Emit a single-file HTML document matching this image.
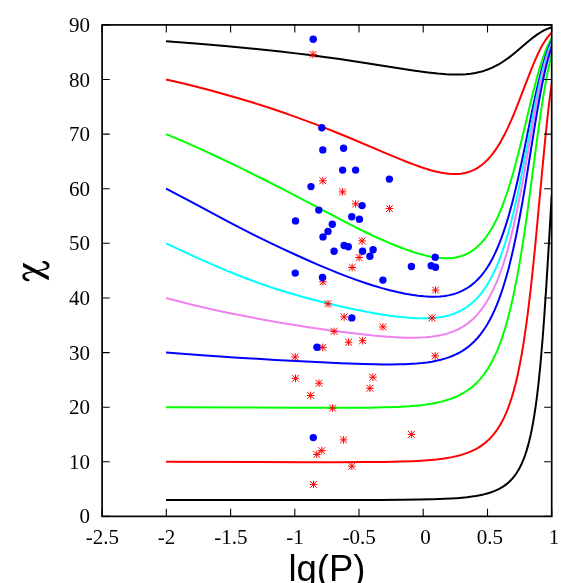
<!DOCTYPE html>
<html><head><meta charset="utf-8"><title>chart</title>
<style>
html,body{margin:0;padding:0;background:#fff;}
body{width:583px;height:583px;overflow:hidden;position:relative;}
svg{position:absolute;left:0;top:0;display:block;}
text{font-family:"Liberation Serif",serif;font-size:21px;fill:#000;}
.sans{font-family:"Liberation Sans",sans-serif;}
</style></head><body>
<svg width="583" height="583" viewBox="0 0 583 583">
<rect x="0" y="0" width="583" height="583" fill="#fff"/>

<defs><clipPath id="pc"><rect x="102.1" y="24.9" width="449.8" height="491.5"/></clipPath></defs>
<g fill="none" stroke-width="2.0" stroke-linejoin="round" stroke-linecap="butt" clip-path="url(#pc)">
<path stroke="#000000" d="M166.07,41.28 L195.64,43.49 L225.20,45.99 L253.48,48.68 L280.47,51.57 L295.90,53.37 L310.04,55.11 L324.18,56.96 L339.60,59.09 L365.31,62.89 L411.59,70.14 L420.59,71.46 L427.87,72.43 L437.74,73.56 L446.31,74.27 L450.25,74.48 L454.03,74.59 L457.63,74.61 L461.15,74.54 L466.03,74.25 L470.75,73.75 L475.21,73.03 L479.50,72.10 L483.70,70.93 L487.73,69.53 L491.76,67.86 L495.70,65.95 L499.05,64.10 L502.48,62.00 L505.91,59.69 L509.42,57.12 L512.51,54.71 L515.86,51.98 L526.40,42.98 L530.00,39.98 L533.69,37.07 L537.04,34.65 L540.81,32.22 L544.41,30.24 L546.21,29.39 L548.01,28.62 L549.81,27.95 L551.70,27.34"/>
<path stroke="#ff0000" d="M166.07,79.51 L181.50,83.09 L195.64,86.55 L211.06,90.55 L225.20,94.42 L239.34,98.50 L253.48,102.80 L267.62,107.31 L281.76,112.05 L292.04,115.64 L303.61,119.82 L315.18,124.15 L326.75,128.63 L338.32,133.26 L351.17,138.54 L389.74,154.86 L401.30,159.65 L407.73,162.22 L414.16,164.68 L420.59,166.99 L425.30,168.56 L430.70,170.19 L435.68,171.51 L440.39,172.56 L444.85,173.33 L449.05,173.82 L453.08,174.06 L456.94,174.02 L460.63,173.72 L463.29,173.32 L465.95,172.75 L468.52,172.02 L471.01,171.14 L473.41,170.11 L475.81,168.89 L478.12,167.52 L480.44,165.94 L482.67,164.23 L484.90,162.30 L487.04,160.23 L489.19,157.95 L491.24,155.55 L493.30,152.93 L495.36,150.08 L497.42,147.01 L499.13,144.27 L500.85,141.37 L504.28,135.07 L507.71,128.11 L511.31,120.15 L514.40,112.83 L517.66,104.71 L527.86,78.04 L531.38,69.08 L534.81,60.82 L537.98,53.78 L539.78,50.11 L541.50,46.84 L543.21,43.82 L544.93,41.06 L546.55,38.67 L548.27,36.41 L549.98,34.41 L551.70,32.65"/>
<path stroke="#00ff00" d="M166.07,134.12 L182.78,141.20 L200.78,149.17 L218.77,157.48 L238.06,166.71 L259.91,177.52 L284.33,189.93 L306.18,201.28 L342.18,220.28 L356.31,227.55 L365.31,232.00 L374.31,236.28 L382.02,239.78 L389.74,243.11 L396.16,245.75 L401.30,247.76 L406.45,249.67 L411.59,251.45 L416.73,253.09 L421.87,254.56 L426.16,255.65 L430.27,256.54 L434.39,257.28 L438.25,257.80 L441.94,258.12 L445.54,258.26 L448.97,258.20 L452.31,257.94 L455.49,257.48 L458.57,256.83 L461.75,255.92 L464.83,254.76 L467.83,253.36 L470.66,251.76 L473.41,249.93 L476.15,247.80 L478.72,245.50 L481.30,242.88 L483.78,240.02 L486.27,236.82 L488.67,233.38 L490.99,229.72 L493.30,225.70 L495.53,221.46 L497.76,216.84 L499.91,212.00 L501.71,207.63 L503.42,203.20 L505.22,198.25 L506.94,193.26 L508.65,188.00 L510.45,182.18 L514.05,169.69 L517.14,158.14 L520.40,145.24 L530.26,104.06 L533.52,90.81 L536.69,78.64 L539.61,68.37 L541.15,63.35 L542.70,58.65 L544.24,54.28 L545.70,50.48 L547.16,47.00 L548.70,43.65 L550.16,40.81 L551.70,38.14"/>
<path stroke="#0000ff" d="M166.07,188.73 L178.93,195.39 L191.78,202.14 L229.06,222.02 L240.63,228.11 L254.77,235.31 L270.19,242.86 L281.76,248.34 L294.61,254.28 L306.18,259.48 L317.75,264.55 L328.04,268.90 L338.32,273.10 L347.32,276.59 L356.31,279.90 L365.31,283.00 L373.03,285.48 L382.02,288.14 L389.74,290.21 L397.45,292.07 L405.16,293.69 L411.59,294.82 L418.02,295.73 L424.01,296.34 L429.67,296.66 L435.08,296.70 L440.14,296.46 L444.94,295.94 L447.25,295.57 L449.57,295.11 L451.80,294.59 L453.94,294.00 L456.00,293.35 L458.06,292.61 L461.49,291.16 L464.83,289.46 L468.09,287.49 L471.18,285.32 L474.18,282.89 L477.01,280.27 L479.84,277.29 L482.50,274.15 L485.07,270.74 L487.56,267.06 L489.96,263.12 L492.36,258.77 L494.67,254.14 L496.90,249.26 L499.13,243.94 L501.28,238.39 L503.16,233.15 L504.96,227.81 L506.77,222.15 L508.48,216.44 L510.28,210.09 L512.00,203.71 L513.71,197.00 L515.51,189.61 L518.51,176.58 L521.77,161.57 L524.77,147.13 L531.46,114.30 L534.64,99.22 L537.64,85.79 L540.38,74.49 L541.84,68.94 L543.21,64.03 L544.67,59.16 L546.04,54.92 L547.41,51.02 L548.87,47.25 L550.24,44.04 L551.70,40.98"/>
<path stroke="#00ffff" d="M166.07,243.34 L178.93,249.43 L191.78,255.35 L204.63,261.13 L216.20,266.19 L226.49,270.55 L236.77,274.76 L247.05,278.78 L256.05,282.11 L265.05,285.28 L275.33,288.70 L284.33,291.52 L294.61,294.58 L304.90,297.46 L316.47,300.52 L328.04,303.41 L339.60,306.13 L351.17,308.67 L362.74,311.02 L373.03,312.94 L383.31,314.66 L392.31,315.97 L401.30,317.05 L409.02,317.76 L416.73,318.21 L423.59,318.33 L430.02,318.16 L433.10,317.96 L436.02,317.68 L438.85,317.33 L441.59,316.90 L444.25,316.40 L446.82,315.82 L449.31,315.16 L451.80,314.40 L454.11,313.60 L456.43,312.69 L458.66,311.70 L460.89,310.60 L464.23,308.72 L467.41,306.64 L470.49,304.31 L473.49,301.72 L476.41,298.86 L479.15,295.84 L481.81,292.56 L484.47,288.92 L487.04,285.01 L489.53,280.84 L491.93,276.42 L494.25,271.75 L496.48,266.83 L498.71,261.46 L500.85,255.84 L502.91,249.99 L504.71,244.51 L506.42,238.94 L508.22,232.75 L509.94,226.51 L511.65,219.93 L513.28,213.35 L516.71,198.47 L519.63,184.76 L522.72,169.37 L525.63,154.22 L532.15,119.64 L535.24,103.79 L538.15,89.68 L540.81,77.84 L542.18,72.17 L543.55,66.85 L544.93,61.87 L546.30,57.26 L547.58,53.28 L548.96,49.38 L550.33,45.86 L551.70,42.69"/>
<path stroke="#ee82ee" d="M166.07,297.96 L177.64,301.03 L189.21,303.96 L200.78,306.74 L213.63,309.67 L226.49,312.45 L239.34,315.09 L252.20,317.59 L266.33,320.21 L280.47,322.68 L294.61,325.03 L310.04,327.44 L324.18,329.51 L338.32,331.45 L351.17,333.07 L364.03,334.55 L375.60,335.72 L384.59,336.50 L392.31,337.05 L400.02,337.45 L407.73,337.69 L414.16,337.71 L420.59,337.54 L425.82,337.23 L430.79,336.76 L435.85,336.08 L440.65,335.19 L445.11,334.13 L449.40,332.86 L453.51,331.36 L457.37,329.66 L461.06,327.74 L464.58,325.60 L467.75,323.37 L470.84,320.89 L473.75,318.24 L476.58,315.34 L479.32,312.19 L481.90,308.90 L484.47,305.25 L486.96,301.35 L489.36,297.20 L491.76,292.64 L494.07,287.84 L496.39,282.61 L498.53,277.35 L500.68,271.65 L502.74,265.74 L504.79,259.34 L506.51,253.63 L508.14,247.86 L509.77,241.76 L511.40,235.32 L513.11,228.19 L514.74,221.07 L518.00,205.81 L520.74,191.94 L523.74,175.86 L532.83,124.46 L535.75,108.40 L538.58,93.69 L541.15,81.35 L543.81,69.87 L545.18,64.50 L546.47,59.82 L547.76,55.50 L549.04,51.53 L550.33,47.91 L551.70,44.44"/>
<path stroke="#0000ff" d="M166.07,352.57 L202.06,355.22 L238.06,357.63 L275.33,359.90 L311.32,361.85 L340.89,363.22 L364.03,364.05 L374.31,364.30 L383.31,364.42 L391.02,364.44 L398.73,364.35 L405.16,364.16 L411.59,363.85 L416.73,363.50 L421.87,363.02 L427.02,362.40 L431.90,361.65 L436.45,360.78 L440.82,359.77 L444.85,358.65 L448.71,357.39 L452.31,356.02 L455.83,354.46 L459.17,352.76 L462.43,350.87 L465.52,348.83 L468.43,346.65 L471.52,344.06 L474.44,341.29 L477.27,338.27 L480.01,335.00 L482.67,331.47 L485.16,327.81 L487.64,323.77 L490.04,319.46 L492.36,314.90 L494.59,310.09 L496.82,304.85 L498.96,299.35 L501.02,293.64 L503.08,287.47 L505.14,280.82 L507.11,273.97 L508.74,267.93 L510.28,261.87 L511.91,255.10 L513.45,248.32 L516.63,233.28 L519.80,216.81 L522.37,202.45 L525.20,185.71 L533.78,132.19 L536.61,114.96 L539.27,99.66 L541.75,86.43 L544.24,74.47 L545.53,68.83 L546.73,63.93 L547.93,59.37 L549.21,54.88 L550.41,51.05 L551.70,47.33"/>
<path stroke="#00ff00" d="M166.07,407.18 L295.90,407.78 L326.75,407.86 L348.60,407.83 L367.88,407.69 L384.59,407.37 L397.45,406.91 L409.02,406.24 L415.44,405.72 L420.59,405.20 L426.16,404.50 L431.30,403.71 L436.02,402.84 L440.48,401.86 L444.68,400.77 L448.63,399.57 L452.40,398.25 L456.00,396.79 L459.43,395.19 L462.77,393.41 L465.95,391.50 L468.95,389.45 L471.86,387.20 L474.61,384.84 L477.61,381.92 L480.44,378.82 L483.18,375.45 L485.76,371.91 L488.24,368.11 L490.64,364.04 L492.96,359.71 L495.27,354.92 L497.42,350.04 L499.56,344.69 L501.62,339.06 L503.68,332.91 L505.65,326.49 L507.54,319.82 L509.42,312.60 L511.22,305.17 L512.77,298.35 L514.31,291.12 L517.31,275.83 L520.23,259.35 L523.14,241.19 L525.72,223.89 L528.38,204.94 L536.26,145.37 L538.84,126.45 L541.24,109.75 L543.38,95.92 L545.53,83.32 L547.58,72.50 L549.64,63.01 L550.67,58.76 L551.70,54.84"/>
<path stroke="#ff0000" d="M166.07,461.79 L307.47,462.13 L339.60,462.15 L362.74,462.09 L383.31,461.91 L400.02,461.59 L412.87,461.14 L424.79,460.47 L431.05,459.98 L436.79,459.41 L442.19,458.74 L447.17,457.99 L451.88,457.13 L456.26,456.18 L460.37,455.12 L464.32,453.91 L468.01,452.60 L471.52,451.15 L474.87,449.55 L478.04,447.80 L481.04,445.90 L483.87,443.87 L486.61,441.63 L489.19,439.24 L491.93,436.36 L494.59,433.17 L497.08,429.79 L499.48,426.08 L501.79,422.04 L503.94,417.83 L506.08,413.11 L508.05,408.23 L509.94,403.04 L511.83,397.26 L513.63,391.13 L515.34,384.67 L516.97,377.91 L518.60,370.49 L520.14,362.78 L521.69,354.38 L524.09,339.80 L526.49,323.22 L528.80,305.24 L531.21,284.54 L533.26,265.23 L535.49,242.83 L542.95,162.54 L545.78,133.53 L547.33,118.88 L548.78,106.01 L550.24,94.17 L551.70,83.44"/>
<path stroke="#000000" d="M166.07,500.02 L324.18,500.06 L380.74,499.97 L402.59,499.83 L419.30,499.61 L433.02,499.29 L444.68,498.85 L450.94,498.52 L456.77,498.13 L462.09,497.68 L467.06,497.17 L471.61,496.59 L475.89,495.94 L479.93,495.20 L483.61,494.40 L487.13,493.49 L490.47,492.47 L493.56,491.37 L496.48,490.15 L499.22,488.83 L501.79,487.39 L504.19,485.85 L506.51,484.14 L509.08,481.95 L511.48,479.55 L513.80,476.87 L515.94,473.98 L518.00,470.78 L519.89,467.40 L521.69,463.71 L523.40,459.69 L525.03,455.33 L526.57,450.65 L528.03,445.65 L529.40,440.35 L530.78,434.39 L532.06,428.12 L533.26,421.60 L534.46,414.34 L535.58,406.86 L536.61,399.27 L537.64,390.95 L538.67,381.85 L539.69,371.90 L540.64,362.00 L542.61,338.77 L544.41,314.51 L546.38,284.84 L548.27,254.11 L551.70,195.72"/>
</g>
<g stroke="#ff0000" stroke-width="1.0" fill="none">
<path d="M309.2,54.4H316.8M313.0,50.6V58.2M309.6,51.0L316.4,57.8M309.6,57.8L316.4,51.0"/>
<path d="M319.0,180.8H326.6M322.8,177.0V184.6M319.4,177.4L326.2,184.2M319.4,184.2L326.2,177.4"/>
<path d="M338.8,191.9H346.4M342.6,188.1V195.7M339.2,188.5L346.0,195.3M339.2,195.3L346.0,188.5"/>
<path d="M351.8,203.9H359.4M355.6,200.1V207.7M352.2,200.5L359.0,207.3M352.2,207.3L359.0,200.5"/>
<path d="M385.6,208.6H393.2M389.4,204.8V212.4M386.0,205.2L392.8,212.0M386.0,212.0L392.8,205.2"/>
<path d="M358.3,240.9H365.9M362.1,237.1V244.7M358.7,237.5L365.5,244.3M358.7,244.3L365.5,237.5"/>
<path d="M355.3,257.5H362.9M359.1,253.7V261.3M355.7,254.1L362.5,260.9M355.7,260.9L362.5,254.1"/>
<path d="M348.3,267.5H355.9M352.1,263.7V271.3M348.7,264.1L355.5,270.9M348.7,270.9L355.5,264.1"/>
<path d="M319.2,281.8H326.8M323.0,278.0V285.6M319.6,278.4L326.4,285.2M319.6,285.2L326.4,278.4"/>
<path d="M431.7,290.1H439.3M435.5,286.3V293.9M432.1,286.7L438.9,293.5M432.1,293.5L438.9,286.7"/>
<path d="M324.2,303.8H331.8M328.0,300.0V307.6M324.6,300.4L331.4,307.2M324.6,307.2L331.4,300.4"/>
<path d="M340.3,316.9H347.9M344.1,313.1V320.7M340.7,313.5L347.5,320.3M340.7,320.3L347.5,313.5"/>
<path d="M428.2,317.9H435.8M432.0,314.1V321.7M428.6,314.5L435.4,321.3M428.6,321.3L435.4,314.5"/>
<path d="M379.1,326.9H386.7M382.9,323.1V330.7M379.5,323.5L386.3,330.3M379.5,330.3L386.3,323.5"/>
<path d="M330.3,331.4H337.9M334.1,327.6V335.2M330.7,328.0L337.5,334.8M330.7,334.8L337.5,328.0"/>
<path d="M344.8,342.2H352.4M348.6,338.4V346.0M345.2,338.8L352.0,345.6M345.2,345.6L352.0,338.8"/>
<path d="M358.8,340.7H366.4M362.6,336.9V344.5M359.2,337.3L366.0,344.1M359.2,344.1L366.0,337.3"/>
<path d="M319.0,347.4H326.6M322.8,343.6V351.2M319.4,344.0L326.2,350.8M319.4,350.8L326.2,344.0"/>
<path d="M431.4,355.9H439.0M435.2,352.1V359.7M431.8,352.5L438.6,359.3M431.8,359.3L438.6,352.5"/>
<path d="M369.1,377.2H376.7M372.9,373.4V381.0M369.5,373.8L376.3,380.6M369.5,380.6L376.3,373.8"/>
<path d="M315.2,383.2H322.8M319.0,379.4V387.0M315.6,379.8L322.4,386.6M315.6,386.6L322.4,379.8"/>
<path d="M366.1,388.3H373.7M369.9,384.5V392.1M366.5,384.9L373.3,391.7M366.5,391.7L373.3,384.9"/>
<path d="M306.9,395.5H314.5M310.7,391.7V399.3M307.3,392.1L314.1,398.9M307.3,398.9L314.1,392.1"/>
<path d="M328.8,408.1H336.4M332.6,404.3V411.9M329.2,404.7L336.0,411.5M329.2,411.5L336.0,404.7"/>
<path d="M407.6,434.4H415.2M411.4,430.6V438.2M408.0,431.0L414.8,437.8M408.0,437.8L414.8,431.0"/>
<path d="M339.8,439.9H347.4M343.6,436.1V443.7M340.2,436.5L347.0,443.3M340.2,443.3L347.0,436.5"/>
<path d="M318.0,450.6H325.6M321.8,446.8V454.4M318.4,447.2L325.2,454.0M318.4,454.0L325.2,447.2"/>
<path d="M313.0,454.4H320.6M316.8,450.6V458.2M313.4,451.0L320.2,457.8M313.4,457.8L320.2,451.0"/>
<path d="M348.0,466.2H355.6M351.8,462.4V470.0M348.4,462.8L355.2,469.6M348.4,469.6L355.2,462.8"/>
<path d="M309.7,484.4H317.3M313.5,480.6V488.2M310.1,481.0L316.9,487.8M310.1,487.8L316.9,481.0"/>
<path d="M291.4,357.0H299.0M295.2,353.2V360.8M291.8,353.6L298.6,360.4M291.8,360.4L298.6,353.6"/>
<path d="M291.7,378.3H299.3M295.5,374.5V382.1M292.1,374.9L298.9,381.7M292.1,381.7L298.9,374.9"/>
</g>
<g fill="#0000ff">
<circle cx="313.2" cy="39.2" r="3.7"/>
<circle cx="321.8" cy="127.7" r="3.7"/>
<circle cx="322.8" cy="149.9" r="3.7"/>
<circle cx="343.6" cy="148.2" r="3.7"/>
<circle cx="342.6" cy="170.1" r="3.7"/>
<circle cx="355.6" cy="170.1" r="3.7"/>
<circle cx="389.4" cy="179.1" r="3.7"/>
<circle cx="311.0" cy="186.6" r="3.7"/>
<circle cx="362.1" cy="205.6" r="3.7"/>
<circle cx="318.8" cy="210.1" r="3.7"/>
<circle cx="351.8" cy="216.7" r="3.7"/>
<circle cx="359.4" cy="219.2" r="3.7"/>
<circle cx="332.3" cy="224.2" r="3.7"/>
<circle cx="328.0" cy="231.4" r="3.7"/>
<circle cx="323.0" cy="236.9" r="3.7"/>
<circle cx="344.1" cy="245.5" r="3.7"/>
<circle cx="348.3" cy="246.7" r="3.7"/>
<circle cx="334.1" cy="251.2" r="3.7"/>
<circle cx="362.6" cy="251.2" r="3.7"/>
<circle cx="373.1" cy="249.7" r="3.7"/>
<circle cx="369.9" cy="256.2" r="3.7"/>
<circle cx="435.2" cy="257.2" r="3.7"/>
<circle cx="411.4" cy="266.5" r="3.7"/>
<circle cx="431.2" cy="265.7" r="3.7"/>
<circle cx="435.5" cy="267.2" r="3.7"/>
<circle cx="322.5" cy="277.5" r="3.7"/>
<circle cx="382.9" cy="280.1" r="3.7"/>
<circle cx="351.8" cy="317.9" r="3.7"/>
<circle cx="317.0" cy="347.2" r="3.7"/>
<circle cx="313.3" cy="437.6" r="3.7"/>
<circle cx="295.5" cy="220.9" r="3.7"/>
<circle cx="295.2" cy="273.1" r="3.7"/>
</g>
<g stroke="#000" stroke-width="1.7" fill="none">
<rect x="102.1" y="24.9" width="449.6" height="491.5"/>
<path stroke-width="1.1" d="M102.1,516.4v-7.6M102.1,24.9v7.6M166.3,516.4v-7.6M166.3,24.9v7.6M230.6,516.4v-7.6M230.6,24.9v7.6M294.8,516.4v-7.6M294.8,24.9v7.6M359.0,516.4v-7.6M359.0,24.9v7.6M423.2,516.4v-7.6M423.2,24.9v7.6M487.5,516.4v-7.6M487.5,24.9v7.6M551.7,516.4v-7.6M551.7,24.9v7.6M102.1,516.4h7.6M551.7,516.4h-7.6M102.1,461.8h7.6M551.7,461.8h-7.6M102.1,407.2h7.6M551.7,407.2h-7.6M102.1,352.6h7.6M551.7,352.6h-7.6M102.1,298.0h7.6M551.7,298.0h-7.6M102.1,243.3h7.6M551.7,243.3h-7.6M102.1,188.7h7.6M551.7,188.7h-7.6M102.1,134.1h7.6M551.7,134.1h-7.6M102.1,79.5h7.6M551.7,79.5h-7.6M102.1,24.9h7.6M551.7,24.9h-7.6"/>
</g>
<g style="filter:grayscale(1)">
<text x="89.9" y="523.4" text-anchor="end">0</text>
<text x="89.9" y="468.8" text-anchor="end">10</text>
<text x="89.9" y="414.2" text-anchor="end">20</text>
<text x="89.9" y="359.6" text-anchor="end">30</text>
<text x="89.9" y="305.0" text-anchor="end">40</text>
<text x="89.9" y="250.3" text-anchor="end">50</text>
<text x="89.9" y="195.7" text-anchor="end">60</text>
<text x="89.9" y="141.1" text-anchor="end">70</text>
<text x="89.9" y="86.5" text-anchor="end">80</text>
<text x="89.9" y="31.9" text-anchor="end">90</text>
<text x="102.3" y="544.4" text-anchor="middle">-2.5</text>
<text x="166.5" y="544.4" text-anchor="middle">-2</text>
<text x="230.8" y="544.4" text-anchor="middle">-1.5</text>
<text x="295.0" y="544.4" text-anchor="middle">-1</text>
<text x="359.2" y="544.4" text-anchor="middle">-0.5</text>
<text x="425.5" y="544.4" text-anchor="middle">0</text>
<text x="489.8" y="544.4" text-anchor="middle">0.5</text>
<text x="554.0" y="544.4" text-anchor="middle">1</text>
<text class="sans" x="327" y="580.5" text-anchor="middle" style="font-size:36.5px">lg(P)</text>
</g>
<path fill="#000" d="M23.0,262.7 L23.0,266.7 L48.8,280.3 L48.8,276.3Z"/><path fill="#000" d="M42.40,262.80 L42.87,263.01 L43.32,263.20 L43.74,263.37 L44.16,263.54 L44.57,263.72 L44.97,263.93 L45.36,264.18 L45.70,264.45 L45.98,264.74 L46.20,265.01 L46.36,265.26 L46.48,265.48 L46.58,265.74 L46.66,266.05 L46.70,266.39 L46.69,266.72 L46.63,267.00 L46.49,267.27 L46.24,267.54 L45.90,267.79 L45.46,268.02 L44.97,268.22 L44.45,268.41 L43.91,268.58 L43.38,268.75 L42.86,268.90 L42.35,269.04 L41.83,269.18 L41.32,269.31 L40.81,269.44 L40.29,269.56 L39.77,269.68 L39.25,269.79 L38.72,269.91 L38.19,270.02 L37.66,270.14 L37.13,270.24 L36.59,270.35 L36.05,270.46 L35.52,270.56 L34.98,270.67 L34.44,270.77 L33.90,270.87 L33.37,270.97 L32.83,271.07 L32.30,271.17 L31.77,271.27 L31.24,271.37 L30.71,271.47 L30.19,271.58 L29.66,271.68 L29.13,271.79 L28.59,271.90 L28.05,272.01 L27.50,272.12 L26.93,272.24 L26.35,272.37 L25.74,272.52 L25.12,272.71 L24.50,272.98 L23.89,273.35 L23.33,273.87 L22.86,274.52 L22.54,275.25 L22.35,276.04 L22.33,276.87 L22.49,277.70 L22.83,278.47 L23.30,279.12 L23.86,279.64 L24.45,280.06 L25.06,280.40 L25.66,280.68 L26.27,280.91 L26.89,281.09 L27.51,281.20 L28.15,281.23 L28.78,281.17 L29.40,281.00 L29.40,279.40 L28.93,279.19 L28.48,279.00 L28.06,278.83 L27.64,278.66 L27.23,278.48 L26.83,278.27 L26.44,278.02 L26.10,277.75 L25.82,277.46 L25.60,277.19 L25.44,276.94 L25.32,276.72 L25.22,276.46 L25.14,276.15 L25.10,275.81 L25.11,275.48 L25.17,275.20 L25.31,274.93 L25.56,274.66 L25.90,274.41 L26.34,274.18 L26.83,273.98 L27.35,273.79 L27.89,273.62 L28.42,273.45 L28.94,273.30 L29.45,273.16 L29.97,273.02 L30.48,272.89 L30.99,272.76 L31.51,272.64 L32.03,272.52 L32.55,272.41 L33.08,272.29 L33.61,272.18 L34.14,272.06 L34.67,271.96 L35.21,271.85 L35.75,271.74 L36.28,271.64 L36.82,271.53 L37.36,271.43 L37.90,271.33 L38.43,271.23 L38.97,271.13 L39.50,271.03 L40.03,270.93 L40.56,270.83 L41.09,270.73 L41.61,270.62 L42.14,270.52 L42.67,270.41 L43.21,270.30 L43.75,270.19 L44.30,270.08 L44.87,269.96 L45.45,269.83 L46.06,269.68 L46.68,269.49 L47.30,269.22 L47.91,268.85 L48.47,268.33 L48.94,267.68 L49.26,266.95 L49.45,266.16 L49.47,265.33 L49.31,264.50 L48.97,263.73 L48.50,263.08 L47.94,262.56 L47.35,262.14 L46.74,261.80 L46.14,261.52 L45.53,261.29 L44.91,261.11 L44.29,261.00 L43.65,260.97 L43.02,261.03 L42.40,261.20Z"/>
</svg></body></html>
